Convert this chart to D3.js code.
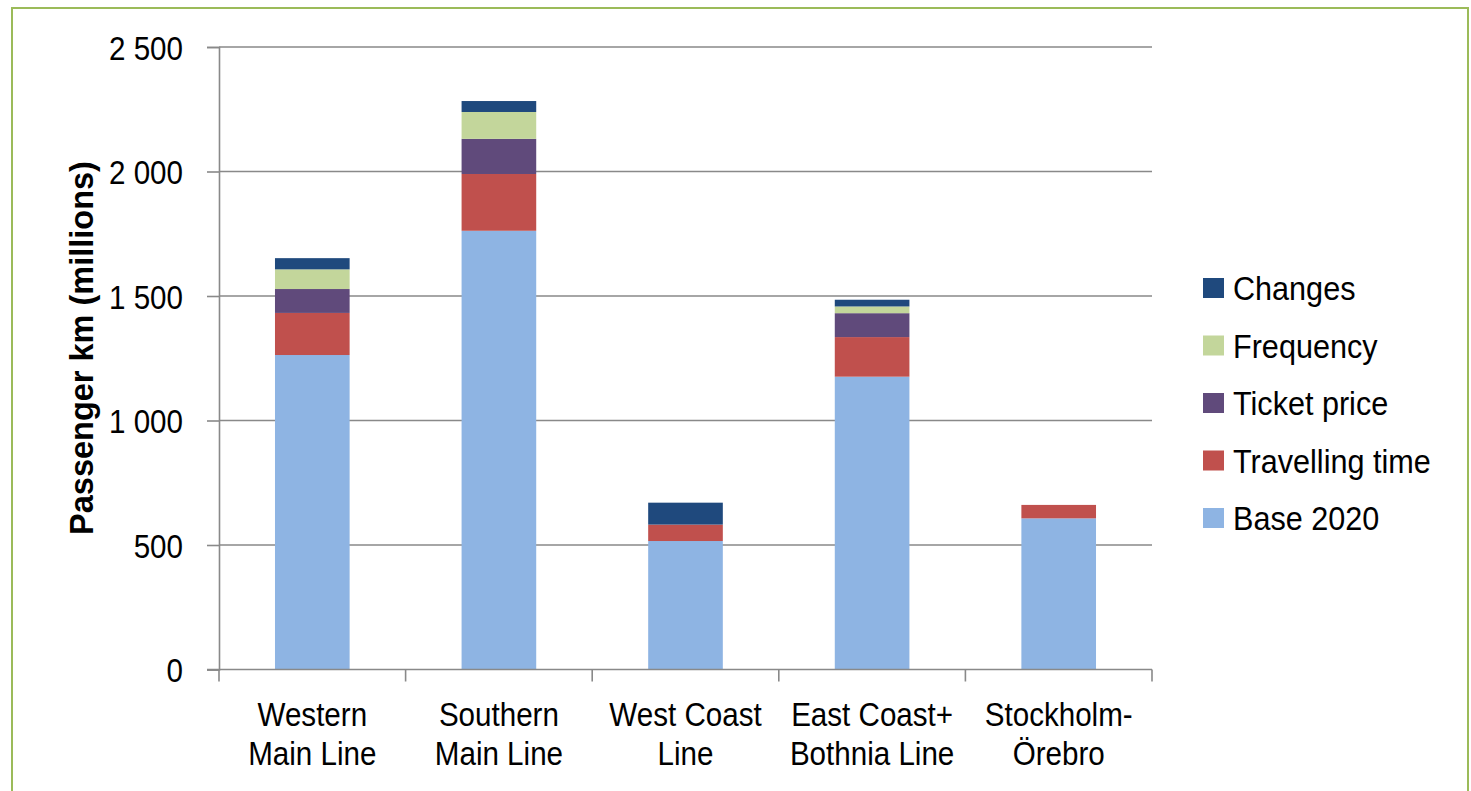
<!DOCTYPE html>
<html>
<head>
<meta charset="utf-8">
<script src="https://cdn.jsdelivr.net/npm/d3@7"></script>
<style>
  body { margin: 0; background: #fff; }
  svg text { font-family: "Liberation Sans", Arial, sans-serif; fill: #000; }
</style>
</head>
<body>
<div id="chart"></div>
<script>
// categories (two text lines each)
const lines = [
    ["Western", "Main Line"],
    ["Southern", "Main Line"],
    ["West Coast", "Line"],
    ["East Coast+", "Bothnia Line"],
    ["Stockholm-", "Örebro"]
];
const series = ["Base 2020", "Travelling time", "Ticket price", "Frequency", "Changes"];
const colors = ["#8eb4e3", "#c0504d", "#604a7b", "#c3d69b", "#1f497d"];

// values per series, one per line
const base2020 = [1263, 1762, 516, 1176, 607];
const travelling = [169, 228, 66, 159, 54];
const ticketPrice = [96, 141, 0, 96, 0];
const frequency = [79, 108, 0, 27, 0];
const changes = [45, 44, 88, 27, 0];
const yTicks = [0, 500, 1000, 1500, 2000, 2500];

const W = 1471, H = 791;
const squeeze = 0.87; // text in the picture is a bit narrow
const fontSize = 34;

const svg = d3.select("#chart").append("svg")
    .attr("width", W)
    .attr("height", H);

// green frame
svg.append("rect")
    .attr("x", 12).attr("y", 8)
    .attr("width", 1456).attr("height", 800)
    .attr("fill", "none")
    .attr("stroke", "#9bbb59")
    .attr("stroke-width", 2);

const plot = { left: 219, right: 1152, top: 47, bottom: 669.5 };

const x = d3.scaleBand()
    .domain(d3.range(lines.length))
    .range([plot.left, plot.right])
    .padding(0);

const y = d3.scaleLinear()
    .domain([0, 2500])
    .range([plot.bottom, plot.top]);

// gridlines
svg.append("g")
    .selectAll("line")
    .data(yTicks.filter(d => d > 0))
    .enter().append("line")
    .attr("x1", plot.left).attr("x2", plot.right)
    .attr("y1", d => y(d)).attr("y2", d => y(d))
    .attr("stroke", "#898989")
    .attr("stroke-width", 1.6);

// stacked bars
const table = lines.map((l, i) => ({
    i: i,
    "Base 2020": base2020[i],
    "Travelling time": travelling[i],
    "Ticket price": ticketPrice[i],
    "Frequency": frequency[i],
    "Changes": changes[i]
}));
const stacked = d3.stack().keys(series)(table);
const barW = x.bandwidth() * 0.4;

svg.append("g")
    .selectAll("g")
    .data(stacked)
    .enter().append("g")
    .attr("fill", (d, k) => colors[k])
    .selectAll("rect")
    .data(d => d.filter(p => p[1] - p[0] > 0))
    .enter().append("rect")
    .attr("x", d => x(d.data.i) + (x.bandwidth() - barW) / 2)
    .attr("width", barW)
    .attr("y", d => y(d[1]))
    .attr("height", d => y(d[0]) - y(d[1]));

// y axis
const yAxis = svg.append("g")
    .attr("transform", `translate(${plot.left},0)`)
    .call(d3.axisLeft(y).tickValues(yTicks).tickSize(12).tickFormat(d => d3.format(",")(d).replace(",", " ")));
yAxis.select(".domain").attr("stroke", "#898989").attr("stroke-width", 1.6);
yAxis.selectAll(".tick line").attr("stroke", "#898989").attr("stroke-width", 1.6);
yAxis.selectAll(".tick text")
    .attr("x", 0).attr("dy", "0.36em")
    .attr("transform", `translate(-36,0) scale(${squeeze},1)`)
    .attr("font-size", fontSize)
    .attr("font-family", "Liberation Sans, Arial, sans-serif")
    .attr("fill", "#000");

// x axis
const xAxis = svg.append("g")
    .attr("transform", `translate(0,${plot.bottom})`)
    .call(d3.axisBottom(x).tickValues([]).tickSizeOuter(0));
xAxis.select(".domain").attr("stroke", "#898989").attr("stroke-width", 1.6)
    .attr("d", `M${plot.left - 12},0H${plot.right}`);

svg.append("g")
    .selectAll("line")
    .data(d3.range(lines.length + 1))
    .enter().append("line")
    .attr("x1", d => plot.left + d * x.step())
    .attr("x2", d => plot.left + d * x.step())
    .attr("y1", plot.bottom).attr("y2", plot.bottom + 12)
    .attr("stroke", "#898989")
    .attr("stroke-width", 1.6);

// category labels
const catLabels = svg.append("g")
    .selectAll("g")
    .data(lines)
    .enter().append("g")
    .attr("transform", (d, i) => `translate(${x(i) + x.bandwidth() / 2},0) scale(${squeeze},1)`);
catLabels.selectAll("text")
    .data(d => d)
    .enter().append("text")
    .attr("x", 0)
    .attr("y", (d, k) => 726 + k * 39)
    .attr("text-anchor", "middle")
    .attr("font-size", fontSize)
    .text(d => d);

// y axis title
svg.append("text")
    .attr("transform", "translate(93,348) rotate(-90)")
    .attr("text-anchor", "middle")
    .attr("font-size", 32.5)
    .attr("font-weight", "bold")
    .text("Passenger km (millions)");

// legend, top item is Changes
const legendItems = series.map((s, k) => ({ name: s, color: colors[k] })).reverse();
const legend = svg.append("g")
    .selectAll("g")
    .data(legendItems)
    .enter().append("g")
    .attr("transform", (d, i) => `translate(1203,${288 + i * 57.5})`);
legend.append("rect")
    .attr("x", 0).attr("y", -10)
    .attr("width", 21).attr("height", 20)
    .attr("fill", d => d.color);
legend.append("text")
    .attr("transform", "translate(30,12) scale(0.9,1)")
    .attr("font-size", fontSize)
    .text(d => d.name);
</script>
</body>
</html>
